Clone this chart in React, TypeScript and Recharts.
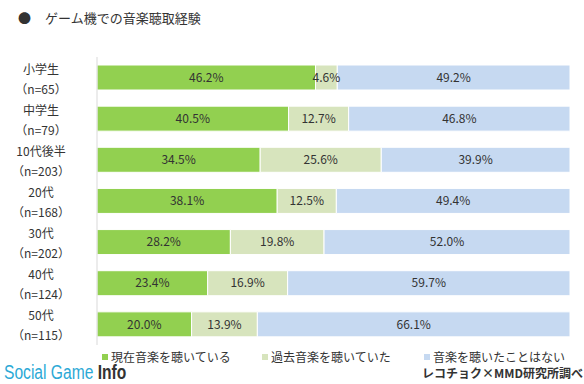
import React from 'react';
import { BarChart, Bar, XAxis, YAxis, LabelList } from 'recharts';

const groups = ['小学生', '中学生', '10代後半', '20代', '30代', '40代', '50代'];
const sampleSizes = [65, 79, 203, 168, 202, 124, 115];
const listeningNow = [46.2, 40.5, 34.5, 38.1, 28.2, 23.4, 20.0];
const listenedBefore = [4.6, 12.7, 25.6, 12.5, 19.8, 16.9, 13.9];
const neverListened = [49.2, 46.8, 39.9, 49.4, 52.0, 59.7, 66.1];

const seriesNames = ['現在音楽を聴いている', '過去音楽を聴いていた', '音楽を聴いたことはない'];
const COLORS = ['#92D050', '#D7E4BD', '#C6D9F1'];

const FONT = '"Noto Sans CJK JP", "Noto Sans", sans-serif';

const data = groups.map((g, i) => ({
    name: g,
    n: sampleSizes[i],
    now: listeningNow[i],
    before: listenedBefore[i],
    never: neverListened[i],
}));

const GroupTick = (props: any) => {
    const { x, y, payload } = props;
    const n = sampleSizes[payload.index];
    return (
        <g>
            <text x={x - 48} y={y - 4} textAnchor="middle" fontSize={12} fill="#333" fontFamily={FONT}>
                {payload.value}
            </text>
            <text x={x - 48} y={y + 16} textAnchor="middle" fontSize={12} fill="#333" fontFamily={FONT}>
                {`（n=${n}）`}
            </text>
        </g>
    );
};

const fmt = (v: any) => `${Number(v).toFixed(1)}%`;

const App: React.FC = () => {
    const keys = ['now', 'before', 'never'];
    return (
        <div style={{ position: 'absolute', left: 0, top: 0, width: 584, height: 384, background: '#fff', fontFamily: FONT }}>
            <div style={{ position: 'absolute', left: 18, top: 8, fontSize: 13, color: '#333', whiteSpace: 'nowrap', fontStyle: 'normal' }}>
                <span style={{ marginRight: 14 }}>●</span>ゲーム機での音楽聴取経験
            </div>
            <BarChart
                width={584}
                height={384}
                data={data}
                layout="vertical"
                barSize={25}
                margin={{ top: 57, right: 14, bottom: 39, left: 0 }}
            >
                <XAxis type="number" domain={[0, 100]} hide />
                <YAxis
                    type="category"
                    dataKey="name"
                    width={97}
                    axisLine={{ stroke: '#D9D9D9' }}
                    tickLine={false}
                    tick={<GroupTick />}
                />
                {keys.map((k, i) => (
                    <Bar key={k} dataKey={k} stackId="a" fill={COLORS[i]} stroke="#fff" strokeWidth={1} isAnimationActive={false}>
                        <LabelList dataKey={k} position="center" formatter={fmt} fill="#333" fontSize={12} fontFamily={FONT} />
                    </Bar>
                ))}
            </BarChart>
            {seriesNames.map((s, i) => (
                <div
                    key={s}
                    style={{
                        position: 'absolute',
                        left: [102, 262, 424][i],
                        top: 351,
                        fontSize: 12,
                        lineHeight: '12px',
                        color: '#333',
                        whiteSpace: 'nowrap',
                        display: 'flex',
                        alignItems: 'center',
                    }}
                >
                    <span style={{ display: 'inline-block', width: 6, height: 6, background: COLORS[i], marginRight: 3 }} />
                    {s}
                </div>
            ))}
            <div
                style={{
                    position: 'absolute',
                    left: 4,
                    top: 362,
                    fontSize: 20,
                    lineHeight: '20px',
                    fontFamily: 'Arial, "Liberation Sans", sans-serif',
                    whiteSpace: 'nowrap',
                    transform: 'scaleX(0.78)',
                    transformOrigin: 'left top',
                }}
            >
                <span style={{ color: '#2CA9D6' }}>Social Game </span>
                <span style={{ color: '#333', fontWeight: 'bold' }}>Info</span>
            </div>
            <div style={{ position: 'absolute', left: 422, top: 364, fontSize: 12, fontWeight: 'bold', color: '#333', whiteSpace: 'nowrap' }}>
                レコチョク×MMD研究所調べ
            </div>
        </div>
    );
};

export default App;
